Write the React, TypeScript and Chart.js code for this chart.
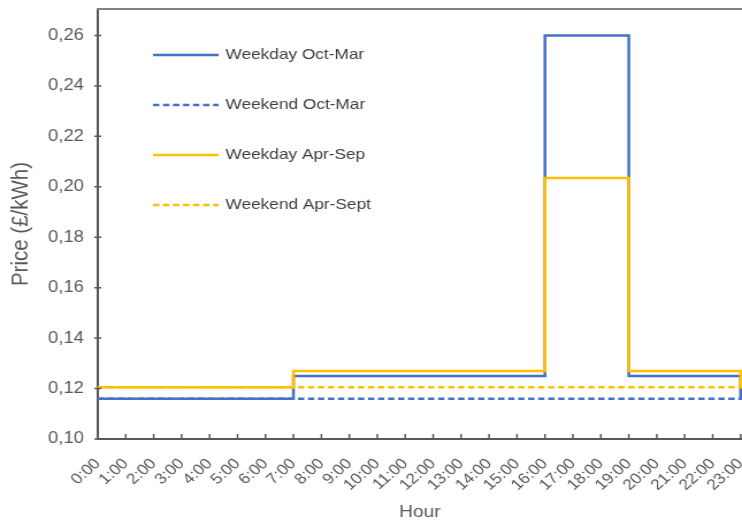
import React, { useEffect, useRef } from "react";
import { Chart, registerables } from "chart.js";

Chart.register(...registerables);

const hours = [0, 1, 2, 3, 4, 5, 6, 7, 8, 9, 10, 11, 12, 13, 14, 15, 16, 17, 18, 19, 20, 21, 22, 23];
const hourLabels = hours.map((h) => `${h}:00`);
const yTickValues = [0.1, 0.12, 0.14, 0.16, 0.18, 0.2, 0.22, 0.24, 0.26];

const stepHours = [0, 7, 16, 19, 23, 23.05];
const weekdayOctMar = [0.116, 0.125, 0.26, 0.125, 0.116, 0.116];
const weekendOctMar = [0.116, 0.116, 0.116, 0.116, 0.116, 0.116];
const weekdayAprSep = [0.1205, 0.127, 0.2035, 0.127, 0.1205, 0.1205];
const weekendAprSep = [0.1205, 0.1205, 0.1205, 0.1205, 0.1205, 0.1205];

const seriesLabels = ["Weekday Oct-Mar", "Weekend Oct-Mar", "Weekday Apr-Sep", "Weekend Apr-Sept"];

const BLUE = "#4472C4";
const YELLOW = "#FFC000";
const AXIS = "#595959";
const TEXT = "#595959";
const FONT = "'Liberation Sans', Arial, sans-serif";

// the reference image is stretched horizontally; draw narrower and scale with CSS
const STRETCH = 1.15;
const CSS_W = 742;
const CSS_H = 525;
const CANVAS_W = Math.round(CSS_W / STRETCH);

const toPoints = (ys: number[]) => stepHours.map((x, i) => ({ x, y: ys[i] }));

const framePlugin = {
  id: "frame",
  afterDatasetsDraw(chart: any) {
    const { ctx, chartArea, scales } = chart;
    ctx.save();
    ctx.strokeStyle = "#808080";
    ctx.lineWidth = 2;
    ctx.beginPath();
    ctx.moveTo(chartArea.left - 1, chartArea.top);
    ctx.lineTo(chartArea.right + 2, chartArea.top);
    ctx.stroke();
    ctx.strokeStyle = AXIS;
    ctx.lineWidth = 1.5;
    ctx.beginPath();
    for (const h of hours) {
      const px = scales.x.getPixelForValue(h);
      ctx.moveTo(px, chartArea.bottom);
      ctx.lineTo(px, chartArea.bottom - 5);
    }
    for (const v of yTickValues) {
      const py = scales.y.getPixelForValue(v);
      ctx.moveTo(chartArea.left - 3, py);
      ctx.lineTo(chartArea.left + 3, py);
    }
    ctx.stroke();
    // legend inside plot
    const ds = chart.data.datasets;
    ctx.font = `15px ${FONT}`;
    ctx.textBaseline = "middle";
    ctx.textAlign = "left";
    [0, 1, 2, 3].forEach((idx, i) => {
      const d = ds[idx];
      const y = chartArea.top + 46 + i * 50;
      const x0 = chartArea.left + 48;
      ctx.strokeStyle = d.borderColor;
      ctx.lineWidth = 2.5;
      ctx.setLineDash(d.borderDash || []);
      ctx.beginPath();
      ctx.moveTo(x0, y);
      ctx.lineTo(x0 + 57, y);
      ctx.stroke();
      ctx.setLineDash([]);
      ctx.fillStyle = "#404040";
      ctx.fillText(seriesLabels[idx], x0 + 63, y);
    });
    ctx.restore();
  },
};

export default function App() {
  const ref = useRef<HTMLCanvasElement | null>(null);
  useEffect(() => {
    if (!ref.current) return;
    const dash = [5.5, 3.2];
    const chart = new Chart(ref.current, {
      type: "line",
      data: {
        datasets: [
          { label: seriesLabels[0], data: toPoints(weekdayOctMar), borderColor: BLUE, borderWidth: 2.5, stepped: "before", pointRadius: 0, order: 2 },
          { label: seriesLabels[1], data: toPoints(weekendOctMar), borderColor: BLUE, borderWidth: 2.5, borderDash: dash, stepped: "before", pointRadius: 0, order: 3 },
          { label: seriesLabels[2], data: toPoints(weekdayAprSep), borderColor: YELLOW, borderWidth: 2.5, stepped: "before", pointRadius: 0, order: 0 },
          { label: seriesLabels[3], data: toPoints(weekendAprSep), borderColor: YELLOW, borderWidth: 2.5, borderDash: dash, stepped: "before", pointRadius: 0, order: 1 },
        ],
      },
      options: {
        animation: false,
        responsive: false,
        maintainAspectRatio: false,
        devicePixelRatio: 1,
        layout: { padding: { top: 9, right: 0, left: 0, bottom: 0 } },
        plugins: { legend: { display: false }, tooltip: { enabled: false } },
        scales: {
          x: {
            type: "linear",
            min: 0,
            max: 23.05,
            grid: { display: false, drawTicks: false },
            border: { display: true, color: AXIS, width: 2 },
            afterBuildTicks: (s: any) => {
              s.ticks = hours.map((h) => ({ value: h }));
            },
            afterFit: (s: any) => {
              s.height = 86;
              s.paddingLeft = 0;
              s.paddingRight = 0;
            },
            ticks: {
              autoSkip: false,
              minRotation: 45,
              maxRotation: 45,
              padding: 16,
              color: TEXT,
              font: { size: 15, family: FONT },
              callback: (v: any) => hourLabels[hours.indexOf(Number(v))] ?? "",
            },
            title: { display: true, text: "Hour", color: TEXT, font: { size: 16.5, family: FONT }, padding: { top: 0, bottom: 3 } },
          },
          y: {
            type: "linear",
            min: 0.1,
            max: 0.2705,
            grid: { display: false, drawTicks: false },
            border: { display: true, color: AXIS, width: 2 },
            afterBuildTicks: (s: any) => {
              s.ticks = yTickValues.map((v) => ({ value: v }));
            },
            afterFit: (s: any) => {
              s.width = 85;
              s.paddingTop = 0;
              s.paddingBottom = 0;
            },
            ticks: {
              padding: 12,
              color: TEXT,
              font: { size: 16, family: FONT },
              callback: (v: any) => Number(v).toFixed(2).replace(".", ","),
            },
            title: { display: true, text: "Price (£/kWh)", color: TEXT, font: { size: 20.5, family: FONT }, padding: { top: 6, bottom: 0 } },
          },
        },
      },
      plugins: [framePlugin],
    });
    return () => chart.destroy();
  }, []);
  return (
    <div style={{ position: "absolute", left: 0, top: 0, width: CSS_W, height: CSS_H, background: "#fff", overflow: "hidden" }}>
      <canvas ref={ref} width={CANVAS_W} height={CSS_H} style={{ width: CSS_W, height: CSS_H, display: "block" }} />
    </div>
  );
}
